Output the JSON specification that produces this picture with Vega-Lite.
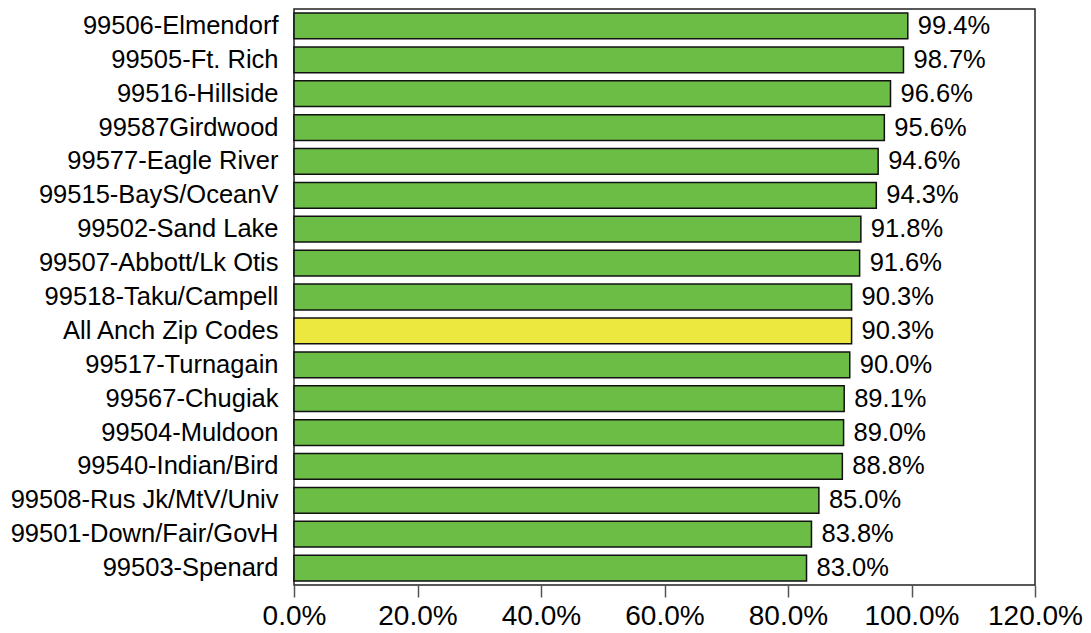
{
  "$schema": "https://vega.github.io/schema/vega-lite/v6.json",
  "autosize": {"type": "none"},
  "padding": {"left": 294, "top": 9, "right": 56, "bottom": 48},
  "width": 741,
  "height": 576,
  "background": "white",
  "config": {
    "font": "Liberation Sans",
    "view": {"stroke": "#222222", "strokeWidth": 1.5}
  },
  "data": {
    "values": [
      {"zip": "99506-Elmendorf", "pct": 0.994, "group": "zip"},
      {"zip": "99505-Ft. Rich", "pct": 0.987, "group": "zip"},
      {"zip": "99516-Hillside", "pct": 0.966, "group": "zip"},
      {"zip": "99587Girdwood", "pct": 0.956, "group": "zip"},
      {"zip": "99577-Eagle River", "pct": 0.946, "group": "zip"},
      {"zip": "99515-BayS/OceanV", "pct": 0.943, "group": "zip"},
      {"zip": "99502-Sand Lake", "pct": 0.918, "group": "zip"},
      {"zip": "99507-Abbott/Lk Otis", "pct": 0.916, "group": "zip"},
      {"zip": "99518-Taku/Campell", "pct": 0.903, "group": "zip"},
      {"zip": "All Anch Zip Codes", "pct": 0.903, "group": "all"},
      {"zip": "99517-Turnagain", "pct": 0.900, "group": "zip"},
      {"zip": "99567-Chugiak", "pct": 0.891, "group": "zip"},
      {"zip": "99504-Muldoon", "pct": 0.890, "group": "zip"},
      {"zip": "99540-Indian/Bird", "pct": 0.888, "group": "zip"},
      {"zip": "99508-Rus Jk/MtV/Univ", "pct": 0.850, "group": "zip"},
      {"zip": "99501-Down/Fair/GovH", "pct": 0.838, "group": "zip"},
      {"zip": "99503-Spenard", "pct": 0.830, "group": "zip"}
    ]
  },
  "encoding": {
    "y": {
      "field": "zip", "type": "nominal", "sort": null,
      "scale": {"paddingInner": 0.24, "paddingOuter": 0.12},
      "axis": {"title": null, "ticks": false, "domain": false, "labelFontSize": 25.5, "labelColor": "#000000", "labelPadding": 16, "labelLimit": 400}
    },
    "x": {
      "field": "pct", "type": "quantitative",
      "scale": {"domain": [0, 1.2], "nice": false},
      "axis": {"title": null, "values": [0, 0.2, 0.4, 0.6, 0.8, 1.0, 1.2], "format": ".1%", "grid": false, "domain": false, "tickSize": 12, "tickColor": "#555555", "tickWidth": 1.5, "labelFontSize": 28, "labelColor": "#000000", "labelPadding": 5, "labelFlush": false}
    }
  },
  "layer": [
    {
      "mark": {"type": "bar", "stroke": "#111111", "strokeWidth": 1.5},
      "encoding": {
        "color": {
          "field": "group", "type": "nominal",
          "scale": {"domain": ["zip", "all"], "range": ["#6BBD46", "#EDE840"]},
          "legend": null
        }
      }
    },
    {
      "mark": {"type": "text", "align": "left", "baseline": "middle", "dx": 10, "fontSize": 25.5, "color": "#000000"},
      "encoding": {
        "text": {"field": "pct", "type": "quantitative", "format": ".1%"}
      }
    }
  ]
}
